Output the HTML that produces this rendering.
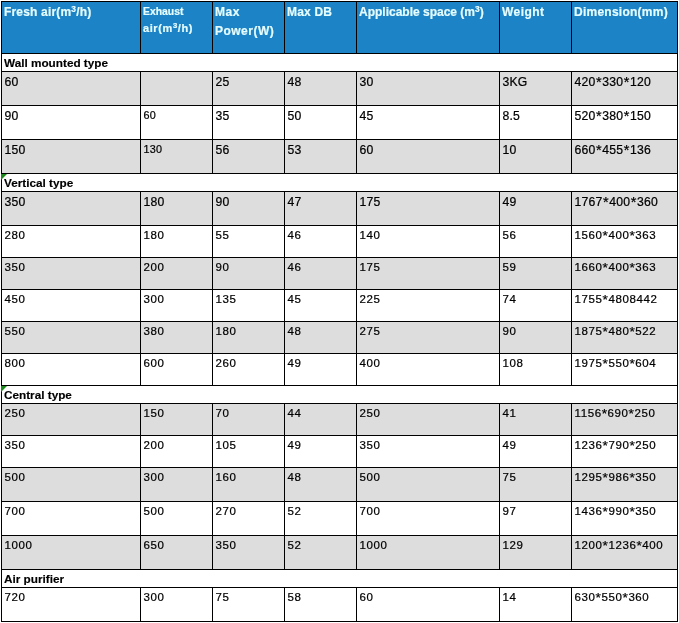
<!DOCTYPE html>
<html>
<head>
<meta charset="utf-8">
<title>Specifications</title>
<style>
html,body{margin:0;padding:0;background:#fff;}
body{width:679px;height:623px;overflow:hidden;position:relative;font-family:"Liberation Sans",sans-serif;}
table{position:absolute;left:1px;top:1px;width:677px;border-collapse:separate;border-spacing:0;table-layout:fixed;border-left:1px solid #000;border-top:1px solid #000;}
td,th{box-sizing:border-box;border-right:1px solid #000;border-bottom:1px solid #000;padding:3px 0 0 2px;vertical-align:top;text-align:left;font-size:12.2px;line-height:15px;letter-spacing:0.2px;-webkit-text-stroke:0.22px #000;color:#000;white-space:nowrap;overflow:hidden;font-weight:normal;}
th{background:#1c83c7;color:#e6fdff;-webkit-text-stroke:0.2px #e6fdff;font-weight:bold;font-size:12px;line-height:19px;height:52px;padding-top:1px;letter-spacing:0.18px;}
th.sm{font-size:10.4px;line-height:17px;letter-spacing:0;}
th.sm span{font-size:11px;letter-spacing:0.6px;}

td span{font-size:14.5px;line-height:0;position:relative;top:1px;padding:0 0.5px;}
sup{font-size:70%;line-height:0;vertical-align:baseline;position:relative;top:-0.52em;}
tr.s td{-webkit-text-stroke:0.15px #000;height:18px;font-weight:bold;font-size:11.75px;letter-spacing:0;padding-top:1px;background:#fff;position:relative;}
tr.a td{height:34px;}
tr.b td{height:32px;}
tr.a td,tr.b td{padding:2px 0 0 2.5px;font-size:11.5px;letter-spacing:0.6px;}
tr.a td span,tr.b td span{font-size:13.7px;padding:0;}
tr.T td{padding-top:3px;font-size:12.2px;letter-spacing:0.2px;}
tr.T td span{font-size:14.5px;padding:0 0.5px;}
tr.T td.sm{font-size:10.8px;line-height:14px;padding-top:2px;}
tr.g td{background:#dddddd;}
i.t{position:absolute;left:1px;width:0;height:0;border-top:6px solid #1a8a1a;border-right:6px solid transparent;}
</style>
</head>
<body>
<table>
<colgroup><col style="width:139px"><col style="width:72px"><col style="width:72px"><col style="width:72px"><col style="width:143px"><col style="width:72px"><col style="width:106px"></colgroup>
<tr><th>Fresh air(m<sup>3</sup>/h)</th><th class="sm">Exhaust<br><span>air(m<sup>3</sup>/h)</span></th><th style="letter-spacing:0.48px">Max<br>Power(W)</th><th>Max DB</th><th style="letter-spacing:0">Applicable space (m<sup>3</sup>)</th><th style="letter-spacing:0.45px">Weight</th><th style="letter-spacing:0.25px">Dimension(mm)</th></tr>
<tr class="s"><td colspan="7">Wall mounted type</td></tr>
<tr class="a g T"><td>60</td><td></td><td>25</td><td>48</td><td>30</td><td>3KG</td><td>420<span>*</span>330<span>*</span>120</td></tr>
<tr class="a T"><td>90</td><td class="sm">60</td><td>35</td><td>50</td><td>45</td><td>8.5</td><td>520<span>*</span>380<span>*</span>150</td></tr>
<tr class="a g T"><td>150</td><td class="sm">130</td><td>56</td><td>53</td><td>60</td><td>10</td><td>660<span>*</span>455<span>*</span>136</td></tr>
<tr class="s"><td colspan="7">Vertical type</td></tr>
<tr class="a g T"><td>350</td><td>180</td><td>90</td><td>47</td><td>175</td><td>49</td><td>1767<span>*</span>400<span>*</span>360</td></tr>
<tr class="b"><td>280</td><td>180</td><td>55</td><td>46</td><td>140</td><td>56</td><td>1560<span>*</span>400<span>*</span>363</td></tr>
<tr class="b g"><td>350</td><td>200</td><td>90</td><td>46</td><td>175</td><td>59</td><td>1660<span>*</span>400<span>*</span>363</td></tr>
<tr class="b"><td>450</td><td>300</td><td>135</td><td>45</td><td>225</td><td>74</td><td>1755<span>*</span>4808442</td></tr>
<tr class="b g"><td>550</td><td>380</td><td>180</td><td>48</td><td>275</td><td>90</td><td>1875<span>*</span>480<span>*</span>522</td></tr>
<tr class="b"><td>800</td><td>600</td><td>260</td><td>49</td><td>400</td><td>108</td><td>1975<span>*</span>550<span>*</span>604</td></tr>
<tr class="s"><td colspan="7">Central type</td></tr>
<tr class="b g"><td>250</td><td>150</td><td>70</td><td>44</td><td>250</td><td>41</td><td>1156<span>*</span>690<span>*</span>250</td></tr>
<tr class="b"><td>350</td><td>200</td><td>105</td><td>49</td><td>350</td><td>49</td><td>1236<span>*</span>790<span>*</span>250</td></tr>
<tr class="a g"><td>500</td><td>300</td><td>160</td><td>48</td><td>500</td><td>75</td><td>1295<span>*</span>986<span>*</span>350</td></tr>
<tr class="a"><td>700</td><td>500</td><td>270</td><td>52</td><td>700</td><td>97</td><td>1436<span>*</span>990<span>*</span>350</td></tr>
<tr class="a g"><td>1000</td><td>650</td><td>350</td><td>52</td><td>1000</td><td>129</td><td>1200<span>*</span>1236<span>*</span>400</td></tr>
<tr class="s"><td colspan="7">Air purifier</td></tr>
<tr class="a"><td>720</td><td>300</td><td>75</td><td>58</td><td>60</td><td>14</td><td>630<span>*</span>550<span>*</span>360</td></tr>
</table>
<i class="t" style="top:174px"></i><i class="t" style="top:386px"></i>
</body>
</html>
